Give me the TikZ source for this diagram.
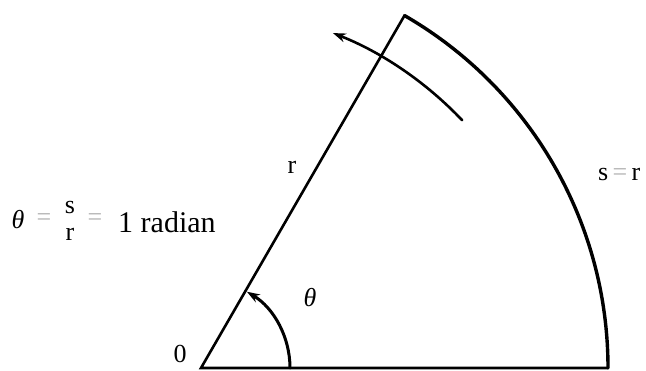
\documentclass[tikz,border=0pt]{standalone}
\usepackage{fontspec}
\setmainfont{Liberation Serif}
\usetikzlibrary{arrows.meta}
\begin{document}
\begin{tikzpicture}[x=1pt,y=1pt,
  lbl/.style={inner sep=0pt, font=\fontsize{26}{30}\selectfont},
  big/.style={inner sep=0pt, font=\fontsize{30}{34}\selectfont},
  faint/.style={text=black!30},
  edge/.style={line width=2.6pt, line cap=round, line join=miter},
  arr/.style={edge, -{Stealth[length=13pt,width=9pt]}}]
\useasboundingbox (0,0) rectangle (646,370);
\coordinate (O) at (201,2);
\path (O) ++(60:407) coordinate (A);
\path (O) ++(0:407) coordinate (B);
\path (O) ++(0:89) coordinate (s0);
\path (O) ++(43.5:360) coordinate (u0);
% radius and baseline
\draw[edge] (A) -- (O) -- (B);
% arc s
\draw[edge, line width=3.4pt] (B) arc[start angle=0, end angle=60, radius=407];
% angle arrow
\draw[arr, line width=3pt] (s0) arc[start angle=0, end angle=59, radius=89];
% upper arrow
\draw[arr] (u0) arc[start angle=43.5, end angle=68.5, radius=360];
% labels
\node[lbl] (zero) at (180,16) {0};
\node[lbl] (rlab) at (292,203) {r};
\node[lbl] (thsmall) at (310,72) {\textit{θ}};
\node[lbl, anchor=west] (sr) at (598,195) {s\,{\color{black!30}=}\,r};
\node[lbl] (thleft) at (18,150) {\textit{θ}};
\node[lbl, faint] (eq1) at (44,150) {=};
\node[lbl] (fs) at (70,162) {s};
\node[lbl] (fr) at (70,136) {r};
\node[lbl, faint] (eq2) at (95,150) {=};
\node[big, anchor=base west] (rad) at (118,137) {1 radian};
\end{tikzpicture}
\end{document}
